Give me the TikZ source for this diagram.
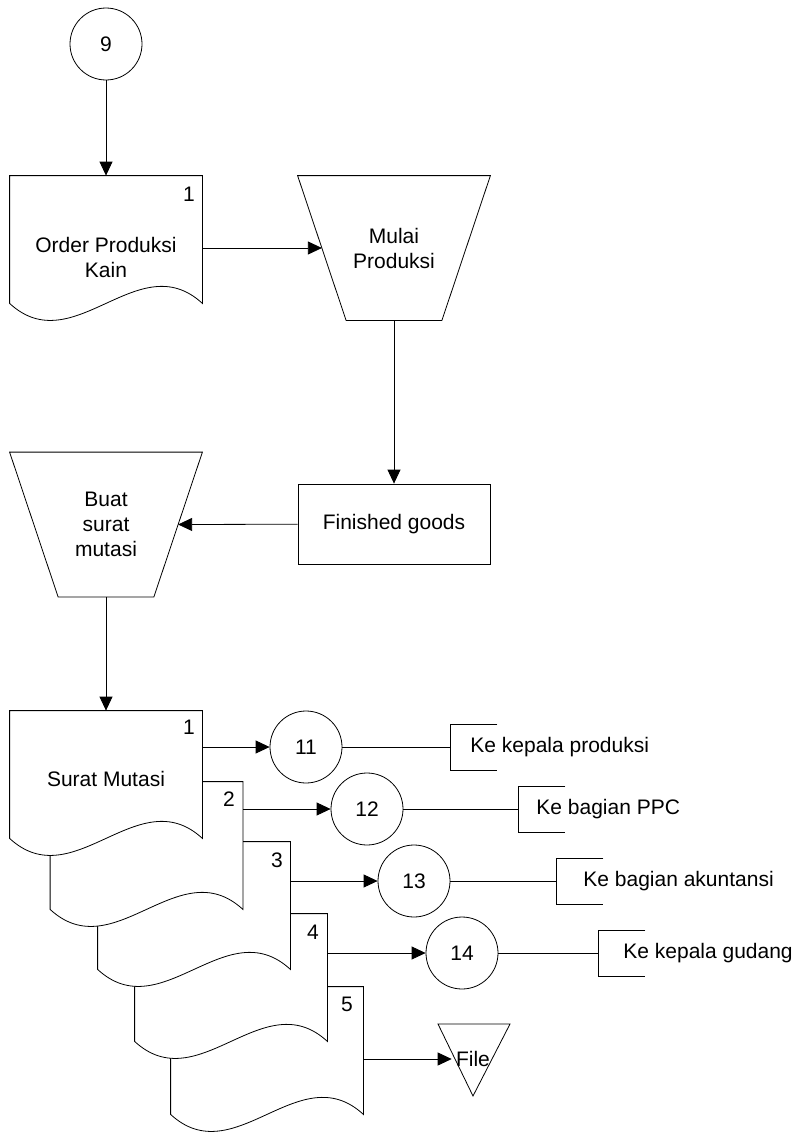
\documentclass[tikz,border=0pt]{standalone}
\usepackage{fontspec}
\setmainfont{Liberation Sans}
\usetikzlibrary{arrows.meta,calc}
\tikzset{
  arr/.style={-{Triangle[length=14pt,width=13pt]}},
  conn/.style={circle, draw, minimum size=72pt, inner sep=0pt},
  docbox/.style={rectangle, draw=none, minimum width=192pt, minimum height=127pt, inner sep=0pt},
  trapbox/.style={rectangle, draw=none, minimum width=192pt, minimum height=144pt, inner sep=0pt, align=center},
  proc/.style={rectangle, draw, minimum width=192pt, minimum height=80pt, inner sep=0pt},
  brk/.style={rectangle, draw=none, minimum width=46pt, minimum height=45pt, inner sep=0pt},
  lbl/.style={anchor=west, inner sep=0pt},
  docpath/.style={draw, fill=white},
  txt/.style={inner sep=0pt, align=center}
}
\newcommand\docshape[1]{\path[docpath] (#1.north west) -- (#1.north east) -- (#1.south east)
  .. controls ($(#1.south east)+(-64,-59)$) and ($(#1.south west)+(64,59)$) .. (#1.south west) -- cycle;}
\newcommand\trapshape[1]{\draw (#1.north west) -- (#1.north east) -- ($(#1.south east)+(-48.5,0)$) -- ($(#1.south west)+(48.5,0)$) -- cycle;}
\newcommand\bracketshape[1]{\draw (#1.north east) -- (#1.north west) -- (#1.south west) -- (#1.south east);}
\begin{document}
\begin{tikzpicture}[x=1pt,y=-1pt,line width=0.8pt,font=\fontsize{21}{25}\selectfont]
\useasboundingbox (0,0) rectangle (800,1132);

% connector 9
\node[conn] (c9) at (106,44) {9};

% Order Produksi Kain document
\node[docbox] (o1) at (106,239.5) {};
\docshape{o1}
\node[txt] (o1t) at (106,257) {Order Produksi\\Kain};
\node[txt] (o1n) at (189,194) {1};

% Mulai Produksi
\node[trapbox] (t1) at (394,248) {Mulai\\Produksi};
\trapshape{t1}

% Finished goods
\node[proc] (fg) at (394,524) {Finished goods};

% Buat surat mutasi
\node[trapbox] (t2) at (106,524.5) {Buat\\surat\\mutasi};
\trapshape{t2}

% Surat Mutasi documents (back to front)
\node[docbox] (d5) at (267,1050.5) {};
\node[docbox] (d4) at (231,977.5) {};
\node[docbox] (d3) at (194,905.5) {};
\node[docbox] (d2) at (146.5,845.5) {};
\node[docbox] (d1) at (106,774.5) {};
\docshape{d5}
\docshape{d4}
\docshape{d3}
\docshape{d2}
\docshape{d1}
\node[txt] (d1t) at (106,779) {Surat Mutasi};
\node[txt] (n1) at (189,727) {1};
\node[txt] (n2) at (229,799) {2};
\node[txt] (n3) at (277,860) {3};
\node[txt] (n4) at (313,932) {4};
\node[txt] (n5) at (347,1004) {5};

% connectors 11-14
\node[conn] (c11) at (306,747) {11};
\node[conn] (c12) at (367,809) {12};
\node[conn] (c13) at (414,881) {13};
\node[conn] (c14) at (462,953) {14};

% brackets and labels
\node[brk] (b11) at (474,747) {};
\node[brk] (b12) at (542,809) {};
\node[brk] (b13) at (580,881) {};
\node[brk] (b14) at (622,953) {};
\bracketshape{b11}
\bracketshape{b12}
\bracketshape{b13}
\bracketshape{b14}
\node[lbl] (l11) at (470,747) {Ke kepala produksi};
\node[lbl] (l12) at (536,809) {Ke bagian PPC};
\node[lbl] (l13) at (583,881) {Ke bagian akuntansi};
\node[lbl] (l14) at (623,953) {Ke kepala gudang};

% File
\node[inner sep=4pt] (file) at (473,1059) {File};
\draw ($(file)+(-35,-35)$) -- ($(file)+(37,-35)$) -- ($(file)+(0,37)$) -- cycle;

% connectors
\draw[arr] (c9) -- (o1);
\draw[arr] (o1.east |- t1.center) -- ($(t1.west)+(24.3,0)$);
\draw[arr] (t1.south) -- (fg);
\draw[arr] (fg) -- ($(t2.east)+(-24.3,0)$);
\draw[arr] (t2.south) -- (d1);
\draw[arr] (c11 -| d1.east) -- (c11);
\draw[arr] (c12 -| d2.east) -- (c12);
\draw[arr] (c13 -| d3.east) -- (c13);
\draw[arr] (c14 -| d4.east) -- (c14);
\draw[arr] (file -| d5.east) -- (file.west);
\draw (c11) -- (b11.west);
\draw (c12) -- (b12.west);
\draw (c13) -- (b13.west);
\draw (c14) -- (b14.west);
\end{tikzpicture}
\end{document}
